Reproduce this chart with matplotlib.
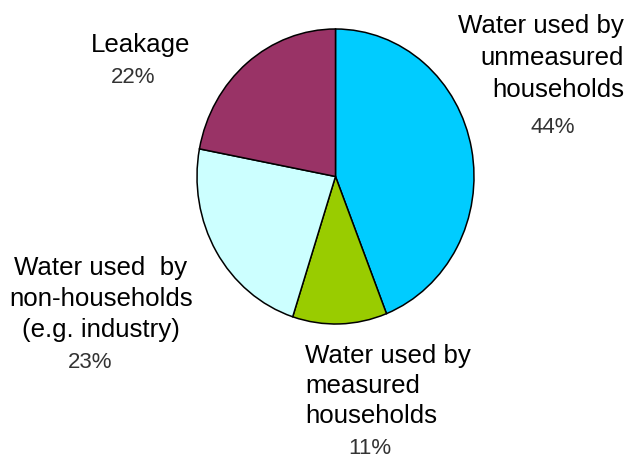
import matplotlib.pyplot as plt

# Water use breakdown (share of total supply)
labels = ['Water used by\nunmeasured\nhouseholds',
          'Water used by\nmeasured\nhouseholds',
          'Water used  by\nnon-households\n(e.g. industry)',
          'Leakage']
shares = [44, 11, 23, 22]
colors = ['#00CCFF', '#99CC00', '#CCFFFF', '#993366']

W, H = 627, 459
fig = plt.figure(figsize=(W / 100, H / 100), dpi=100)
plt.rcParams['font.family'] = ['Liberation Sans', 'DejaVu Sans']

# pie box in pixels: left, top, right, bottom (slightly taller than wide)
px_l, px_t, px_r, px_b = 197, 29, 474, 324
ax = fig.add_axes([px_l / W, (H - px_b) / H, (px_r - px_l) / W, (px_b - px_t) / H])
ax.pie(shares, colors=colors, startangle=90, counterclock=False,
       wedgeprops=dict(edgecolor='black', linewidth=1.1, clip_on=False))
ax.set_aspect('auto')
ax.set_xlim(-1, 1)
ax.set_ylim(-1, 1)
ax.axis('off')


def put_lines(text, x, baseline, ha, step=31, size=18.6, color='black'):
    # draw a multi-line label one line at a time, y given as pixel baselines
    for i, line in enumerate(text.split('\n')):
        fig.text(x / W, 1 - (baseline + i * step) / H, line, ha=ha,
                 va='baseline', fontsize=size, color=color)


pct_color = '#333333'

# unmeasured households (top right)
put_lines(labels[0], 624, 33, 'right', step=32)
put_lines(f'{shares[0]}%', 553, 133, 'center', size=16, color=pct_color)

# measured households (bottom)
put_lines(labels[1], 305, 363, 'left', step=30)
put_lines(f'{shares[1]}%', 370, 454, 'center', size=16, color=pct_color)

# non-households (left)
put_lines(labels[2], 101, 275, 'center', step=31)
put_lines(f'{shares[2]}%', 90, 368, 'center', size=16, color=pct_color)

# leakage (top left)
put_lines(labels[3], 141, 52, 'center')
put_lines(f'{shares[3]}%', 133, 83, 'center', size=16, color=pct_color)

fig.savefig('out.png', dpi=100)
